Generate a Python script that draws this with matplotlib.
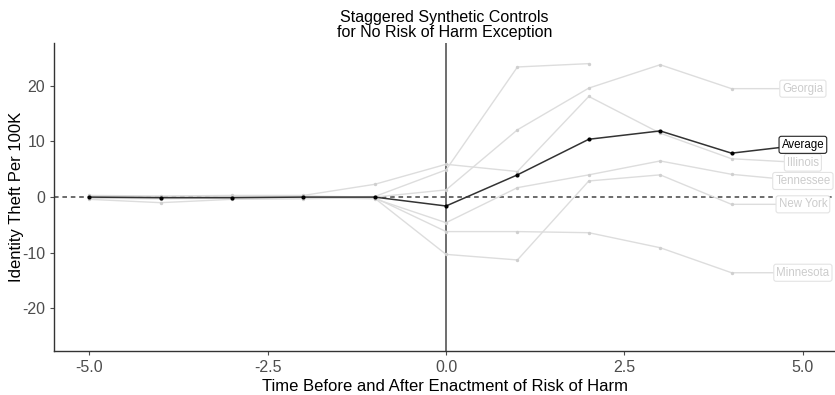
import matplotlib.pyplot as plt
import numpy as np

plt.rcParams['font.family'] = ['Liberation Sans', 'DejaVu Sans']
plt.rcParams['axes.unicode_minus'] = False

#
# Data: effect estimates per state, event time -5 .. 5
#

years = [-5, -4, -3, -2, -1, 0, 1, 2, 3, 4, 5]

georgia   = [0.2, -0.1, 0.1, 0.2, 0.0, 1.3, 12.1, 19.6, 23.8, 19.5, 19.5]
illinois  = [0.3, 0.2, 0.3, 0.3, 2.3, 5.9, 4.6, 18.1, 11.5, 6.9, 6.2]
tennessee = [-0.2, -0.3, -0.2, -0.1, -0.3, -4.6, 1.7, 4.0, 6.5, 4.1, 2.9]
new_york  = [0.0, -0.2, 0.0, 0.1, -0.2, -10.3, -11.3, 2.9, 4.0, -1.3, -1.3]
minnesota = [-0.4, -1.0, -0.4, -0.3, -0.1, -6.2, -6.2, -6.4, -9.1, -13.6, -13.6]
short_run = [0.1, 0.0, -0.1, 0.0, 0.1, 4.9, 23.4, 24.0]                   # only observed through t = 2
average   = [0.0, -0.1, -0.1, 0.0, 0.0, -1.6, 4.0, 10.4, 11.9, 7.9, 9.4]

states = [("Georgia", georgia), ("Illinois", illinois), ("Tennessee", tennessee),
          ("New York", new_york), ("Minnesota", minnesota), (None, short_run)]

#
# Plot
#

fig = plt.figure(figsize=(8.35, 3.95), dpi=100)
ax = fig.add_axes([0.065, 0.111, 0.935, 0.78])

ax.axhline(0, color="#444444", linestyle=(0, (3, 2.5)), linewidth=1.1, zorder=1)
ax.axvline(0, color="#555555", linewidth=1.2, zorder=1)

for name, vals in states:
    ax.plot(years[:len(vals)], vals, color="#dddddd", linewidth=1.0, zorder=2)
    ax.scatter(years[:len(vals)], vals, color="#cfcfcf", s=6, zorder=2, linewidths=0)
    if name is not None:
        ax.text(years[len(vals) - 1], vals[-1], name, ha="center", va="center", fontsize=8.3,
                color="#cccccc", zorder=4,
                bbox=dict(boxstyle="round,pad=0.22,rounding_size=0.2", fc="white", ec="#e3e3e3", lw=0.8))

ax.plot(years, average, color="#333333", linewidth=1.1, zorder=3)
ax.scatter(years, average, color="black", s=9, zorder=3, linewidths=0)
ax.text(years[-1], average[-1], "Average", ha="center", va="center", fontsize=8.3, color="black", zorder=5,
        bbox=dict(boxstyle="round,pad=0.22,rounding_size=0.2", fc="white", ec="#222222", lw=0.8))

ax.set_xlim(-5.49, 5.45)
ax.set_ylim(-27.7, 27.7)
ax.set_xticks([-5, -2.5, 0, 2.5, 5])
ax.set_xticklabels(["-5.0", "-2.5", "0.0", "2.5", "5.0"])
ax.set_yticks([-20, -10, 0, 10, 20])

ax.set_title("Staggered Synthetic Controls\nfor No Risk of Harm Exception", fontsize=11.5, linespacing=1.05, pad=4)
ax.set_xlabel("Time Before and After Enactment of Risk of Harm", fontsize=12, labelpad=3)
ax.set_ylabel("Identity Theft Per 100K", fontsize=12)
ax.yaxis.set_label_coords(-0.0384, 0.5)

ax.tick_params(axis="both", labelsize=11.5, colors="#4d4d4d", length=3, width=0.8)
[i.set_color("#4d4d4d") for i in ax.get_xticklabels() + ax.get_yticklabels()]
ax.spines["top"].set_visible(False)
ax.spines["right"].set_visible(False)
[ax.spines[i].set_color("#333333") for i in ["left", "bottom"]]
[ax.spines[i].set_linewidth(1.0) for i in ["left", "bottom"]]

plt.savefig("out.png", dpi=100)
